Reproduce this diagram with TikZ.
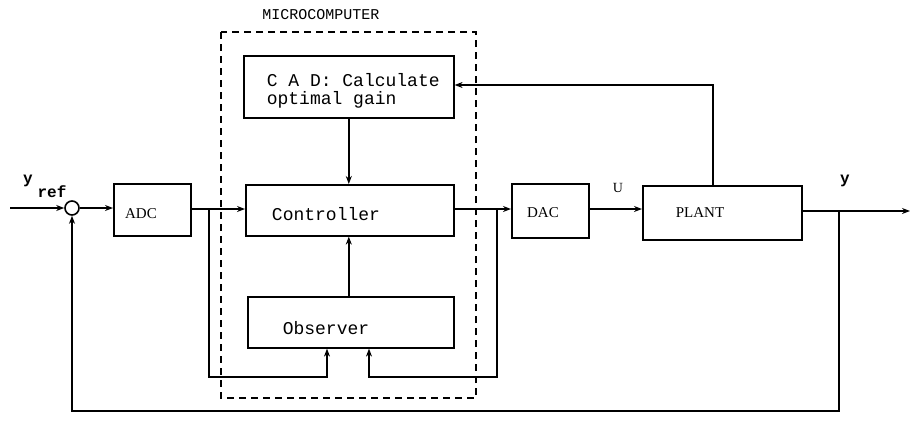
\documentclass[tikz,border=0pt]{standalone}
\usepackage{fontspec}
\setmainfont{Liberation Serif}
\setmonofont{Liberation Mono}
\usetikzlibrary{arrows.meta}
\begin{document}
\begin{tikzpicture}[x=1pt,y=-1pt,line width=1.6pt,
  >={Stealth[length=8pt,width=6pt]},
  blk/.style={draw,anchor=north west,inner sep=0pt},
  mono/.style={font=\fontsize{18}{18}\selectfont\ttfamily},
  serif/.style={font=\fontsize{15}{15}\selectfont\rmfamily},
  frame/.style={draw,dash pattern=on 7pt off 5pt,line width=1.4pt}]
\useasboundingbox (0,0) rectangle (911,445);
% boxes
\node[blk,minimum width=77pt,minimum height=52pt] (adc) at (113,183) {};
\node[blk,minimum width=208pt,minimum height=51pt] (ctrl) at (245,184) {};
\node[blk,minimum width=206pt,minimum height=51pt] (obs) at (247,296) {};
\node[blk,minimum width=210pt,minimum height=62pt] (cad) at (243,55) {};
\node[blk,minimum width=77pt,minimum height=54pt] (dac) at (511,183) {};
\node[blk,minimum width=159pt,minimum height=54pt] (plant) at (642,185) {};
\node[draw,circle,minimum size=14pt,inner sep=0pt] (sum) at (72,208) {};
% texts
\node[serif] (adct) at (141,214) {ADC};
\node[serif] (dact) at (543,213) {DAC};
\node[serif] (plantt) at (700,213) {PLANT};
\node[serif,font=\fontsize{14}{14}\selectfont] (ut) at (618,188) {U};
\node[mono] (ctrlt) at (326,214) {Controller};
\node[mono] (obst) at (326,328) {Observer};
\node[mono,align=left,anchor=west,inner sep=0pt] (cadt) at (266,91) {C A D: Calculate\\optimal gain};
\node[mono,font=\fontsize{15}{15}\selectfont\ttfamily] (mct) at (321,15) {MICROCOMPUTER};
\node[font=\fontsize{16}{16}\selectfont\ttfamily\bfseries] (yreft) at (28,181) {y};
\node[font=\fontsize{16}{16}\selectfont\ttfamily\bfseries] (yreft2) at (52,192) {ref};
\node[font=\fontsize{16}{16}\selectfont\ttfamily\bfseries] (yout) at (845,181) {y};
% microcomputer frame
\draw[frame] (221,32) rectangle (476,398);
% coordinates
\coordinate (in) at (10,208);
\coordinate (out) at (910,211);
\coordinate (b1) at (209,209);
\coordinate (b2) at (497,209);
\coordinate (b3) at (839,211);
\coordinate (c1) at (209,377);
\coordinate (c2) at (327,377);
\coordinate (c3) at (497,377);
\coordinate (c4) at (369,377);
\coordinate (c5) at (839,411);
\coordinate (c6) at (72,411);
\coordinate (f1) at (713,85);
% connectors
\draw[->] (in) -- (sum.west);
\draw[->] (sum.east) -- (adc.west |- sum.east);
\draw[->] (adc.east |- b1) -- (ctrl.west |- b1);
\draw[->] (ctrl.east |- b2) -- (dac.west |- b2);
\draw[->] (dac.east |- b2) -- (plant.west |- b2);
\draw[->] (plant.east |- out) -- (out);
\draw[->] (b1) -- (c1) -- (c2) -- (obs.south -| c2);
\draw[->] (b2) -- (c3) -- (c4) -- (obs.south -| c4);
\draw[->] (b3) -- (c5) -- (c6) -- (sum.south);
\draw[->] (plant.north -| f1) -- (f1) -- (cad.east |- f1);
\draw[->] (cad.south) -- (ctrl.north -| cad.south);
\draw[->] (obs.north -| cad.south) -- (ctrl.south -| cad.south);
\end{tikzpicture}
\end{document}
